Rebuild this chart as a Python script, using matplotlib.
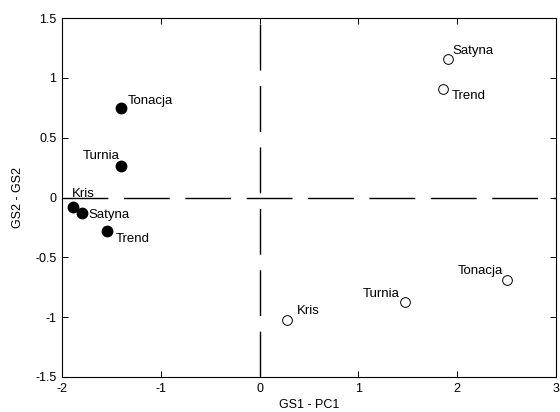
import matplotlib
matplotlib.use("Agg")
import matplotlib.pyplot as plt

plt.rcParams['font.family'] = ['Liberation Sans', 'DejaVu Sans']
plt.rcParams['font.size'] = 9.5

# GS1 (filled) and PC1 (open) coordinates
names = ["Kris", "Satyna", "Trend", "Turnia", "Tonacja"]
gs_x = [-1.885, -1.80, -1.54, -1.40, -1.40]
gs_y = [-0.077, -0.132, -0.28, 0.263, 0.745]
pc_x = [0.274, 1.904, 1.86, 1.469, 2.504]
pc_y = [-1.026, 1.16, 0.909, -0.873, -0.692]

# label offsets in points (dx, dy, ha)
gs_off = {"Kris": (-1, 9.5, "left"), "Satyna": (5, -1, "left"), "Trend": (6, -6, "left"),
          "Turnia": (-1, 7, "right"), "Tonacja": (5, 5, "left")}
pc_off = {"Kris": (7, 7, "left"), "Satyna": (3.5, 5.5, "left"), "Trend": (6, -5, "left"),
          "Turnia": (-4, 5.5, "right"), "Tonacja": (-3, 7, "right")}

fig = plt.figure(figsize=(5.6, 4.12), dpi=100)
ax = fig.add_axes([0.1107, 0.085, 0.8823, 0.871])

ax.axhline(0, color='black', lw=1.0, dashes=(33, 11.2), zorder=1)
ax.axvline(0, color='black', lw=1.0, dashes=(33, 11.2), zorder=1)

ax.plot(gs_x, gs_y, 'o', color='black', markersize=7.5, zorder=3)
ax.plot(pc_x, pc_y, 'o', markerfacecolor='white', markeredgecolor='black',
        markeredgewidth=0.7, markersize=7, zorder=3)

for n, x, y in zip(names, gs_x, gs_y):
    dx, dy, ha = gs_off[n]
    ax.annotate(n, (x, y), xytext=(dx, dy), textcoords='offset points', ha=ha, va='center')
for n, x, y in zip(names, pc_x, pc_y):
    dx, dy, ha = pc_off[n]
    ax.annotate(n, (x, y), xytext=(dx, dy), textcoords='offset points', ha=ha, va='center')

ax.set_xlim(-2, 3)
ax.set_ylim(-1.5, 1.5)
ax.set_xticks([-2, -1, 0, 1, 2, 3])
ax.set_xticklabels(['-2', '-1', '0', '1', '2', '3'])
ax.set_yticks([-1.5, -1, -0.5, 0, 0.5, 1, 1.5])
ax.set_yticklabels(['-1.5', '-1', '-0.5', '0', '0.5', '1', '1.5'])
ax.tick_params(direction='in', top=True, right=True, length=4, width=0.7, pad=4,
               labelsize=9)
for s in ax.spines.values():
    s.set_linewidth(0.8)

ax.set_xlabel('GS1 - PC1', labelpad=3, fontsize=9)
ax.set_ylabel('GS2 - GS2', labelpad=8, fontsize=9)

fig.savefig('out.png', dpi=100)
